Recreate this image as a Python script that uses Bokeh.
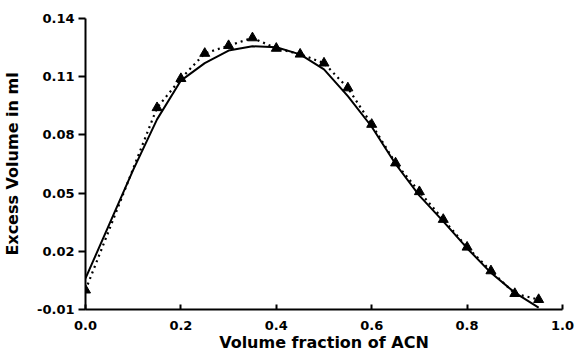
from bokeh.plotting import figure
from bokeh.models import Range1d, FixedTicker, PrintfTickFormatter
from bokeh.embed import file_html
from bokeh.resources import INLINE

# measured points (triangles, dotted curve)
meas_x = [0.00, 0.15, 0.20, 0.25, 0.30, 0.35, 0.40, 0.45, 0.50, 0.55,
          0.60, 0.65, 0.70, 0.75, 0.80, 0.85, 0.90, 0.95]
meas_y = [0.000, 0.094, 0.109, 0.122, 0.126, 0.130, 0.1246, 0.1216, 0.117, 0.1042,
          0.0854, 0.0655, 0.0507, 0.0364, 0.0221, 0.0099, -0.0018, -0.0049]

# fitted curve (solid)
fit_x = [0.00, 0.05, 0.10, 0.15, 0.20, 0.25, 0.30, 0.35, 0.40, 0.45,
         0.50, 0.55, 0.60, 0.65, 0.70, 0.75, 0.80, 0.85, 0.90, 0.95]
fit_y = [0.006, 0.034, 0.062, 0.088, 0.108, 0.117, 0.1235, 0.1257, 0.1252, 0.1215,
         0.1138, 0.100, 0.0842, 0.065, 0.0487, 0.0354, 0.0216, 0.0089, -0.0013, -0.009]

x_ticks = [0.0, 0.2, 0.4, 0.6, 0.8, 1.0]
y_ticks = [-0.01, 0.02, 0.05, 0.08, 0.11, 0.14]

FONT = "DejaVu Sans"

p = figure(width=575, height=354, output_backend="svg", toolbar_location=None,
           x_range=Range1d(0, 1), y_range=Range1d(-0.01, 0.14),
           min_border_left=85, min_border_right=13, min_border_top=18, min_border_bottom=42)
p.outline_line_color = None
p.grid.visible = False
p.background_fill_color = "white"
p.border_fill_color = "white"

p.line(fit_x, fit_y, line_color="black", line_width=2)
p.line(meas_x, meas_y, line_color="black", line_width=2.2, line_dash="2 4")
p.scatter(meas_x, meas_y, marker="triangle", size=10, fill_color="black", line_color="black")

xa = p.xaxis[0]
xa.ticker = FixedTicker(ticks=x_ticks)
xa.formatter = PrintfTickFormatter(format="%.1f")
xa.major_tick_in = 5
xa.major_tick_out = 0
xa.minor_tick_line_color = None
xa.axis_line_width = 2
xa.major_tick_line_width = 2
xa.major_label_standoff = 11
xa.axis_label = "Volume fraction of ACN"
xa.axis_label_standoff = 0
xa.axis_label_text_font = FONT
xa.axis_label_text_font_style = "bold"
xa.axis_label_text_font_size = "16px"
xa.major_label_text_font = FONT
xa.major_label_text_font_style = "bold"
xa.major_label_text_font_size = "13px"
xa.major_label_text_color = "black"
xa.axis_label_text_color = "black"

ya = p.yaxis[0]
ya.ticker = FixedTicker(ticks=y_ticks)
ya.formatter = PrintfTickFormatter(format="%.2f")
ya.major_tick_in = 0
ya.major_tick_out = 7
ya.minor_tick_line_color = None
ya.axis_line_width = 2
ya.major_tick_line_width = 2
ya.major_label_standoff = 4
ya.axis_label = "Excess Volume in ml"
ya.axis_label_standoff = 12
ya.axis_label_text_font = FONT
ya.axis_label_text_font_style = "bold"
ya.axis_label_text_font_size = "16px"
ya.major_label_text_font = FONT
ya.major_label_text_font_style = "bold"
ya.major_label_text_font_size = "13px"
ya.major_label_text_color = "black"
ya.axis_label_text_color = "black"

open("out.html", "w").write(file_html(p, INLINE))
